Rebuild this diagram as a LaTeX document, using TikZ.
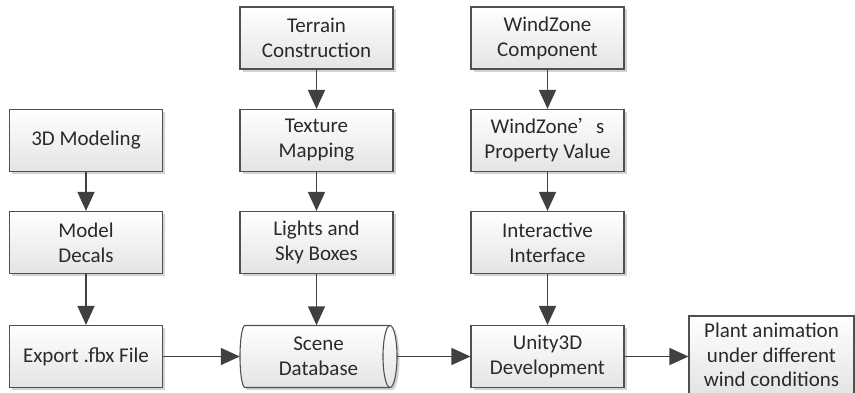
\documentclass[tikz,border=0pt]{standalone}
\usepackage{fontspec}
\setmainfont{Carlito}
\newfontfamily\cjk{Noto Sans CJK SC}
\usetikzlibrary{arrows.meta,shadows,calc}
\definecolor{edge}{HTML}{505050}
\definecolor{arr}{HTML}{404040}
\definecolor{txt}{HTML}{2A2A2A}
\definecolor{shadeb}{HTML}{E4E4E4}
\begin{document}
\begin{tikzpicture}[x=1pt,y=1pt,
  stepbox/.style={draw=edge,line width=1.1pt,top color=white,bottom color=shadeb,
    minimum width=153pt,minimum height=62pt,inner sep=0pt,align=center,
    text=txt,font=\fontsize{21}{25}\selectfont,
    drop shadow={shadow xshift=2.5pt,shadow yshift=-2.5pt,opacity=0.35,fill=gray}},
  conn/.style={draw=arr,line width=1.4pt,-{Triangle[length=19pt,width=17pt]}}]
\useasboundingbox (0,0) rectangle (855,392);
% column 1
\node[stepbox] (mod) at (86,251.5) {3D Modeling};
\node[stepbox] (dec) at (86,149.5) {Model\\Decals};
\node[stepbox] (exp) at (86,35.5) {Export .fbx File};
% column 2
\node[stepbox] (ter) at (316.5,354) {Terrain\\Construction};
\node[stepbox] (tex) at (316.5,251.5) {Texture\\Mapping};
\node[stepbox] (lig) at (316.5,149.5) {Lights and\\Sky Boxes};
% cylinder (scene database)
\path[draw=edge,line width=1.1pt,top color=white,bottom color=shadeb,
    drop shadow={shadow xshift=2.5pt,shadow yshift=-2.5pt,opacity=0.35,fill=gray}]
  (245,66.5) arc[start angle=90,end angle=270,x radius=5,y radius=31]
  -- (390,4.5) arc[start angle=-90,end angle=90,x radius=7,y radius=31] -- cycle;
\draw[edge,line width=1.1pt] (390,66.5) arc[start angle=90,end angle=270,x radius=7,y radius=31];
\node[minimum width=157pt,minimum height=62pt,inner sep=0pt,align=center,text=txt,
  font=\fontsize{21}{25}\selectfont] (db) at (318.5,35.5) {Scene\\Database};
% column 3
\node[stepbox] (wzc) at (547.5,354) {WindZone\\Component};
\node[stepbox] (wzp) at (547.5,251.5) {WindZone{\cjk\fontsize{18}{25}\selectfont ’}s\\Property Value};
\node[stepbox] (int) at (547.5,149.5) {Interactive\\Interface};
\node[stepbox] (uni) at (547.5,35.5) {Unity3D\\Development};
% result
\node[stepbox,minimum width=165pt,minimum height=78pt,font=\fontsize{21}{24.5}\selectfont] (pla) at (771.5,37) {Plant animation\\under different\\wind conditions};
% connectors
\draw[conn] (mod) -- (dec);
\draw[conn] (dec) -- (exp);
\draw[conn] (ter) -- (tex);
\draw[conn] (tex) -- (lig);
\draw[conn] (lig.south) -- (lig.south |- db.north);
\draw[conn] (wzc) -- (wzp);
\draw[conn] (wzp) -- (int);
\draw[conn] (int) -- (uni);
\draw[conn] (exp.east) -- (db.west);
\draw[conn] (db.east) -- (uni.west);
\draw[conn] (uni.east) -- (uni.east -| pla.west);
\end{tikzpicture}
\end{document}
